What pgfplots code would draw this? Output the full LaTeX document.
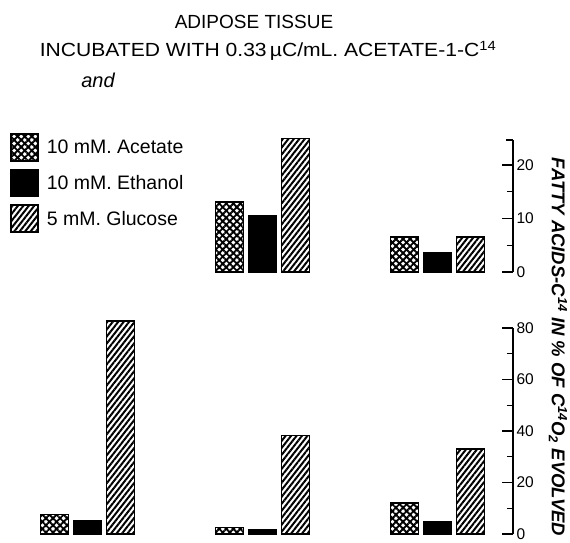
\documentclass[border=0pt]{standalone}
\usepackage{fontspec}
\setmainfont{Liberation Sans}
\newfontfamily\widefont{Liberation Sans}[FakeStretch=1.11]
\usepackage{pgfplots}
\pgfplotsset{compat=1.18}
\usetikzlibrary{patterns.meta}

\tikzset{
  acet/.style={draw=black, line width=1.6pt,
    pattern={Lines[angle=45,distance=5pt,line width=1.9pt]},
    postaction={pattern={Lines[angle=-45,distance=5pt,line width=1.9pt]}}},
  eth/.style={draw=black, line width=1.6pt, fill=black},
  gluc/.style={draw=black, line width=1.6pt,
    pattern={Lines[angle=52,distance=4.3pt,line width=2pt]}},
}

\pgfplotsset{
  panel/.style={
    scale only axis, width=513pt,
    xmin=-0.5, xmax=2.4314,
    axis x line=none, axis y line*=right,
    y axis line style={line width=1.5pt},
    xtick=\empty,
    ybar, bar width=0.16,
    tick align=inside,
    major tick length=11pt, minor tick length=6pt,
    tick style={line width=1.3pt, black},
    yticklabel style={font=\fontsize{15.5}{15.5}\selectfont},
    /pgf/number format/assume math mode=true,
    minor y tick num=1,
    clip=false,
  },
  legimg/.style={legend image code/.code={\draw[##1] (0pt,-13.5pt) rectangle (27pt,13.5pt);}},
}

\begin{document}
\begin{tikzpicture}
\path[use as bounding box] (0pt,0pt) rectangle (570pt,543pt);

% top panel: fatty acids
\begin{axis}[panel,
  at={(0pt,271pt)}, anchor=south west,
  height=132pt, ymin=0, ymax=24.7,
  ytick={0,10,20},
  extra y ticks={24.7}, extra y tick labels={},
  extra y tick style={major tick length=7pt},
  legend style={at={(axis description cs:0.0195,1.053)}, anchor=north west,
    draw=none, fill=none, inner sep=0pt, row sep=7pt, column sep=6pt,
    font=\fontsize{19.5}{19.5}\selectfont},
  legend cell align=left,
]
\addplot[acet, bar shift=-0.1886, legimg] coordinates {(1,13.1) (2,6.5)};
\addplot[eth, bar shift=0, legimg] coordinates {(1,10.5) (2,3.6)};
\addplot[gluc, bar shift=0.1886, legimg] coordinates {(1,25) (2,6.5)};
\legend{10 mM. Acetate, 10 mM. Ethanol, 5 mM. Glucose}
\end{axis}

% bottom panel: CO2
\begin{axis}[panel,
  at={(0pt,9pt)}, anchor=south west,
  height=206pt, ymin=0, ymax=80,
  ytick={0,20,40,60,80},
]
\addplot[acet, bar shift=-0.1886] coordinates {(0,7.5) (1,2.6) (2,12)};
\addplot[eth, bar shift=0] coordinates {(0,5.3) (1,1.5) (2,4.9)};
\addplot[gluc, bar shift=0.1886] coordinates {(0,82.7) (1,38.3) (2,33)};
\end{axis}

\node[font=\fontsize{19}{19}\selectfont] at (254pt,521.5pt) {ADIPOSE TISSUE};
\node[font=\fontsize{19}{19}\selectfont\widefont] at (268pt,492pt) {INCUBATED WITH 0.33\,µC/mL. ACETATE-1-C\textsuperscript{14}};
\node[font=\fontsize{20}{20}\selectfont\itshape] at (98pt,463pt) {and};
\node[rotate=-90, font=\fontsize{18.5}{18.5}\selectfont\bfseries\itshape] at (558pt,196pt)
  {FATTY ACIDS-C\textsuperscript{14} IN \% OF C\textsuperscript{14}O\textsubscript{2} EVOLVED};
\end{tikzpicture}
\end{document}
